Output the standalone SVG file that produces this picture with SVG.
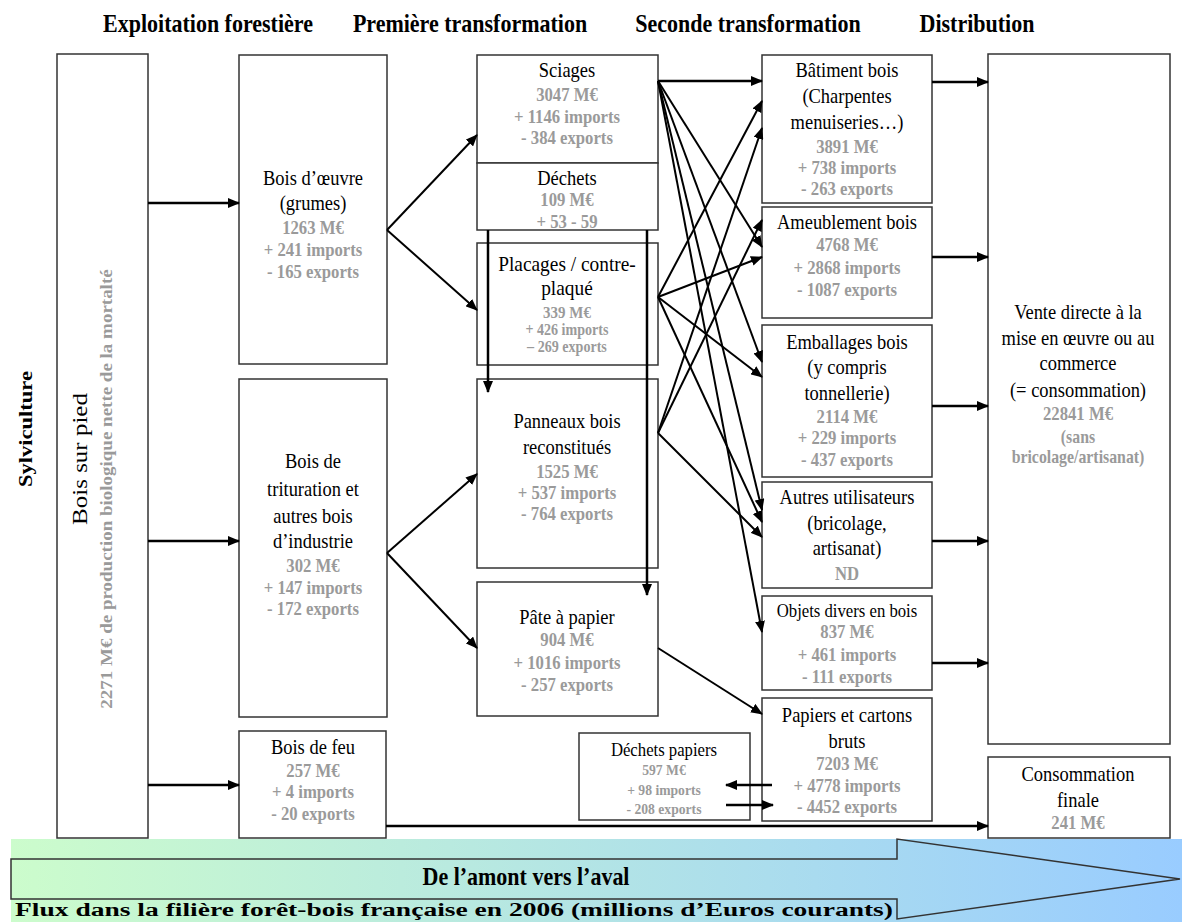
<svg xmlns="http://www.w3.org/2000/svg" width="1182" height="922" viewBox="0 0 1182 922">
<defs>
<linearGradient id="band" x1="0" y1="0" x2="1" y2="0">
<stop offset="0" stop-color="#ccfccc"/>
<stop offset="1" stop-color="#99ccff"/>
</linearGradient>
<marker id="ah" markerUnits="userSpaceOnUse" markerWidth="12" markerHeight="10" refX="11" refY="5" orient="auto">
<path d="M0,0 L12,5 L0,10 z" fill="#000"/>
</marker>
</defs>
<style>
text{font-family:'Liberation Serif','Times New Roman',Tinos,Times,'DejaVu Serif',serif}
.box{fill:#fff;stroke:#333;stroke-width:1.5}
.t{font-size:21px;fill:#000;text-anchor:middle}
.g{font-size:19px;font-weight:bold;fill:#9a9a9a;text-anchor:middle}
.gs{font-size:16px}
.h{font-size:25px;font-weight:bold;fill:#000;text-anchor:middle}
.c{stroke:#000;stroke-width:2.5;fill:none;marker-end:url(#ah)}
.x{stroke:#000;stroke-width:2;fill:none;marker-end:url(#ah)}
</style>
<rect width="1182" height="922" fill="#fff"/>

<g id="headers">
<text class="h" transform="matrix(.88,0,0,1,24.96,0)" x="208" y="32">Exploitation forestière</text>
<text class="h" transform="matrix(.88,0,0,1,56.4,0)" x="470" y="32">Première transformation</text>
<text class="h" transform="matrix(.88,0,0,1,89.76,0)" x="748" y="32">Seconde transformation</text>
<text class="h" transform="matrix(.88,0,0,1,117.24,0)" x="977" y="32">Distribution</text>
</g>

<g id="banner">
<rect x="11" y="839" width="1171" height="83" fill="url(#band)"/>
<path d="M11,859 H897 V839 L1180,879 L897,919 V899 H11 Z" fill="none" stroke="#333" stroke-width="1.5"/>
<text class="h" transform="matrix(.88,0,0,1,63.12,0)" x="526" y="885">De l’amont vers l’aval</text>
<text x="15" y="916" textLength="878" lengthAdjust="spacingAndGlyphs" style="font-size:18px;font-weight:bold;fill:#000">Flux dans la filière forêt-bois française en 2006 (millions d’Euros courants)</text>
</g>

<g id="sylviculture">
<text class="h" transform="translate(32,429) scale(0.88,1) rotate(-90)" style="font-size:22.5px">Sylviculture</text>
</g>

<g id="bois-sur-pied">
<rect class="box" x="57" y="54" width="91" height="784"/>
<text class="t" transform="translate(87,459) scale(0.88,1) rotate(-90)" style="font-size:25px">Bois sur pied</text>
<text class="g" transform="translate(112,489) scale(0.88,1) rotate(-90)">2271 M€ de production biologique nette de la mortalté</text>
</g>

<g id="bois-oeuvre">
<rect class="box" x="239" y="55" width="148" height="309"/>
<g transform="matrix(.88,0,0,1,37.56,0)">
<text class="t" x="313" y="185">Bois d’œuvre</text>
<text class="t" x="313" y="210">(grumes)</text>
<text class="g" x="313" y="234">1263 M€</text>
<text class="g" x="313" y="256">+ 241 imports</text>
<text class="g" x="313" y="278">- 165 exports</text>
</g>
</g>

<g id="bois-trituration">
<rect class="box" x="239" y="379" width="148" height="338"/>
<g transform="matrix(.88,0,0,1,37.56,0)">
<text class="t" x="313" y="468">Bois de</text>
<text class="t" x="313" y="496">trituration et</text>
<text class="t" x="313" y="523">autres bois</text>
<text class="t" x="313" y="548">d’industrie</text>
<text class="g" x="313" y="572">302 M€</text>
<text class="g" x="313" y="594">+ 147 imports</text>
<text class="g" x="313" y="615">- 172 exports</text>
</g>
</g>

<g id="bois-feu">
<rect class="box" x="239" y="731" width="147" height="107"/>
<g transform="matrix(.88,0,0,1,37.56,0)">
<text class="t" x="313" y="754">Bois de feu</text>
<text class="g" x="313" y="777">257 M€</text>
<text class="g" x="313" y="798">+ 4 imports</text>
<text class="g" x="313" y="820">- 20 exports</text>
</g>
</g>

<g id="sciages">
<rect class="box" x="477" y="55" width="181" height="108"/>
<g transform="matrix(.88,0,0,1,68.04,0)">
<text class="t" x="567" y="77">Sciages</text>
<text class="g" x="567" y="101">3047 M€</text>
<text class="g" x="567" y="123">+ 1146 imports</text>
<text class="g" x="567" y="144">- 384 exports</text>
</g>
</g>

<g id="dechets">
<rect class="box" x="477" y="163" width="181" height="67"/>
<g transform="matrix(.88,0,0,1,68.04,0)">
<text class="t" x="567" y="185">Déchets</text>
<text class="g" x="567" y="206">109 M€</text>
<text class="g" x="567" y="228">+ 53 - 59</text>
</g>
</g>

<g id="placages">
<rect class="box" x="477" y="243" width="181" height="122"/>
<g transform="matrix(.88,0,0,1,68.04,0)">
<text class="t" x="567" y="271" style="font-size:22px">Placages / contre-</text>
<text class="t" x="567" y="295" style="font-size:22px">plaqué</text>
<text class="g" x="567" y="318" style="font-size:17px">339 M€</text>
<text class="g gs" x="567" y="335">+ 426 imports</text>
<text class="g gs" x="567" y="352">– 269 exports</text>
</g>
</g>

<g id="panneaux">
<rect class="box" x="477" y="379" width="181" height="189"/>
<g transform="matrix(.88,0,0,1,68.04,0)">
<text class="t" x="567" y="428">Panneaux bois</text>
<text class="t" x="567" y="454">reconstitués</text>
<text class="g" x="567" y="478">1525 M€</text>
<text class="g" x="567" y="499">+ 537 imports</text>
<text class="g" x="567" y="520">- 764 exports</text>
</g>
</g>

<g id="pate-papier">
<rect class="box" x="477" y="582" width="181" height="134"/>
<g transform="matrix(.88,0,0,1,68.04,0)">
<text class="t" x="567" y="624">Pâte à papier</text>
<text class="g" x="567" y="646">904 M€</text>
<text class="g" x="567" y="669">+ 1016 imports</text>
<text class="g" x="567" y="691">- 257 exports</text>
</g>
</g>

<g id="batiment">
<rect class="box" x="762" y="55" width="170" height="148"/>
<g transform="matrix(.88,0,0,1,101.64,0)">
<text class="t" x="847" y="77">Bâtiment bois</text>
<text class="t" x="847" y="103">(Charpentes</text>
<text class="t" x="847" y="129">menuiseries…)</text>
<text class="g" x="847" y="153">3891 M€</text>
<text class="g" x="847" y="174">+ 738 imports</text>
<text class="g" x="847" y="195">- 263 exports</text>
</g>
</g>

<g id="ameublement">
<rect class="box" x="762" y="207" width="170" height="111"/>
<g transform="matrix(.88,0,0,1,101.64,0)">
<text class="t" x="847" y="229">Ameublement bois</text>
<text class="g" x="847" y="251">4768 M€</text>
<text class="g" x="847" y="274">+ 2868 imports</text>
<text class="g" x="847" y="296">- 1087 exports</text>
</g>
</g>

<g id="emballages">
<rect class="box" x="762" y="325" width="170" height="152"/>
<g transform="matrix(.88,0,0,1,101.64,0)">
<text class="t" x="847" y="349">Emballages bois</text>
<text class="t" x="847" y="374">(y compris</text>
<text class="t" x="847" y="400">tonnellerie)</text>
<text class="g" x="847" y="423">2114 M€</text>
<text class="g" x="847" y="444">+ 229 imports</text>
<text class="g" x="847" y="466">- 437 exports</text>
</g>
</g>

<g id="autres">
<rect class="box" x="762" y="482" width="170" height="106"/>
<g transform="matrix(.88,0,0,1,101.64,0)">
<text class="t" x="847" y="504">Autres utilisateurs</text>
<text class="t" x="847" y="530">(bricolage,</text>
<text class="t" x="847" y="555">artisanat)</text>
<text class="g" x="847" y="580">ND</text>
</g>
</g>

<g id="objets">
<rect class="box" x="762" y="596" width="170" height="94"/>
<g transform="matrix(.88,0,0,1,101.64,0)">
<text class="t" x="847" y="617" style="font-size:19px">Objets divers en bois</text>
<text class="g" x="847" y="638">837 M€</text>
<text class="g" x="847" y="661">+ 461 imports</text>
<text class="g" x="847" y="683">- 111 exports</text>
</g>
</g>

<g id="papiers">
<rect class="box" x="762" y="698" width="170" height="123"/>
<g transform="matrix(.88,0,0,1,101.64,0)">
<text class="t" x="847" y="722">Papiers et cartons</text>
<text class="t" x="847" y="748">bruts</text>
<text class="g" x="847" y="770">7203 M€</text>
<text class="g" x="847" y="792">+ 4778 imports</text>
<text class="g" x="847" y="813">- 4452 exports</text>
</g>
</g>

<g id="dechets-papiers">
<rect class="box" x="579" y="733" width="171" height="87"/>
<g transform="matrix(.88,0,0,1,79.68,0)">
<text class="t" x="664" y="756" style="font-size:19px">Déchets papiers</text>
<text class="g" x="664" y="775" style="font-size:15.5px">597 M€</text>
<text class="g" x="664" y="795" style="font-size:15.5px">+ 98 imports</text>
<text class="g" x="664" y="814" style="font-size:15.5px">- 208 exports</text>
</g>
</g>

<g id="vente-directe">
<rect class="box" x="988" y="54" width="182" height="690"/>
<g transform="matrix(.88,0,0,1,129.36,0)">
<text class="t" x="1078" y="319">Vente directe à la</text>
<text class="t" x="1078" y="345">mise en œuvre ou au</text>
<text class="t" x="1078" y="370">commerce</text>
<text class="t" x="1078" y="397">(= consommation)</text>
<text class="g" x="1078" y="420">22841 M€</text>
<text class="g" x="1078" y="443" style="font-size:18px">(sans</text>
<text class="g" x="1078" y="463" style="font-size:18px">bricolage/artisanat)</text>
</g>
</g>

<g id="consommation-finale">
<rect class="box" x="988" y="757" width="182" height="81"/>
<g transform="matrix(.88,0,0,1,129.36,0)">
<text class="t" x="1078" y="781">Consommation</text>
<text class="t" x="1078" y="807">finale</text>
<text class="g" x="1078" y="829">241 M€</text>
</g>
</g>

<g id="connectors">
<line class="c" x1="148" y1="203" x2="239" y2="203"/>
<line class="c" x1="148" y1="541" x2="239" y2="541"/>
<line class="c" x1="148" y1="785" x2="239" y2="785"/>
<line class="x" x1="387" y1="230" x2="477" y2="135"/>
<line class="x" x1="387" y1="230" x2="477" y2="310"/>
<line class="x" x1="387" y1="553" x2="477" y2="474"/>
<line class="x" x1="387" y1="553" x2="477" y2="648"/>
<line class="c" x1="488" y1="230" x2="488" y2="392"/>
<line class="c" x1="647" y1="230" x2="647" y2="595"/>
<line class="c" x1="658" y1="81" x2="762" y2="81"/>
<line class="x" x1="658" y1="81" x2="762" y2="247"/>
<line class="x" x1="658" y1="81" x2="762" y2="362"/>
<line class="x" x1="658" y1="81" x2="762" y2="510"/>
<line class="x" x1="658" y1="81" x2="762" y2="632"/>
<line class="x" x1="658" y1="297" x2="762" y2="101"/>
<line class="x" x1="658" y1="297" x2="762" y2="257"/>
<line class="x" x1="658" y1="297" x2="762" y2="377"/>
<line class="x" x1="658" y1="297" x2="762" y2="522"/>
<line class="x" x1="658" y1="433" x2="762" y2="128"/>
<line class="x" x1="658" y1="433" x2="762" y2="220"/>
<line class="x" x1="658" y1="433" x2="762" y2="537"/>
<line class="x" x1="658" y1="648" x2="762" y2="714"/>
<line class="c" x1="772" y1="785" x2="726" y2="785"/>
<line class="c" x1="726" y1="805" x2="773" y2="805"/>
<line class="c" x1="932" y1="82" x2="988" y2="82"/>
<line class="c" x1="932" y1="257" x2="988" y2="257"/>
<line class="c" x1="932" y1="406" x2="988" y2="406"/>
<line class="c" x1="932" y1="541" x2="988" y2="541"/>
<line class="c" x1="932" y1="663" x2="988" y2="663"/>
<line class="c" x1="386" y1="826" x2="988" y2="826"/>
</g>
</svg>
